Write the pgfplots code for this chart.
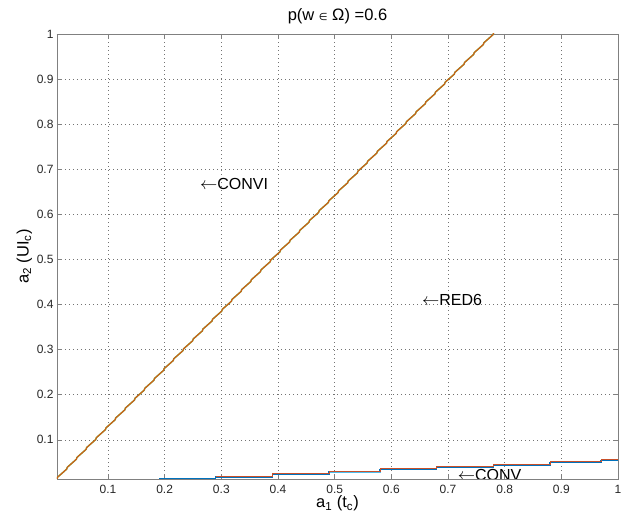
\documentclass[border=0pt]{standalone}
\usepackage{pgfplots}
\pgfplotsset{compat=1.18}
\usepackage{fontspec}
\setmainfont{Liberation Sans}
\newfontfamily\dejavu{DejaVu Sans}
\definecolor{mblue}{HTML}{0072BD}
\definecolor{morange}{HTML}{D95319}
\definecolor{mgreen}{HTML}{77AC30}
\definecolor{mcyan}{HTML}{4DBEEE}
\definecolor{mred}{HTML}{C8502A}
\begin{document}
\begin{tikzpicture}
\begin{axis}[
  scale only axis, width=561pt, height=445pt,
  at={(0,0)}, anchor=south west,
  xmin=0.01, xmax=1, ymin=0.013, ymax=1,
  xtick={0.1,0.2,...,1.0}, ytick={0.1,0.2,...,1.0},
  xticklabels={0.1,0.2,0.3,0.4,0.5,0.6,0.7,0.8,0.9,1},
  yticklabels={0.1,0.2,0.3,0.4,0.5,0.6,0.7,0.8,0.9,1},
  grid=major, major grid style={black!55, dash pattern=on 1pt off 3pt, line width=0.5pt},
  tick align=inside, tick pos=both, major tick length=5pt,
  axis line style={black!50, line width=0.8pt},
  every tick/.style={black!50},
  tick label style={font=\fontsize{12}{14}\selectfont, text=black!85},
  xticklabel style={yshift=-3pt},
  /pgf/number format/assume math mode=true,
  title={p(w {\dejavu\fontsize{10}{11}\selectfont ∈} Ω) =0.6},
  title style={font=\fontsize{16.5}{18}\selectfont, yshift=1pt},
  xlabel={a\textsubscript{1} (t\textsubscript{c})},
  ylabel={a\textsubscript{2} (UI\textsubscript{c})},
  label style={font=\fontsize{16.5}{18}\selectfont},
  xlabel style={yshift=5pt},
  ylabel style={yshift=-2pt},
  clip=true,
]
% CONVI / RED6 diagonal (overlapping, green under orange)
\addplot[mgreen, line width=1.5pt] coordinates {
(0.0100,0.0130) (0.0110,0.0170) (0.0271,0.0349) (0.0281,0.0389) (0.0442,0.0568) (0.0452,0.0608)
(0.0613,0.0787) (0.0623,0.0827) (0.0784,0.1006) (0.0794,0.1046) (0.0955,0.1225) (0.0965,0.1265)
(0.1126,0.1444) (0.1136,0.1484) (0.1297,0.1663) (0.1307,0.1703) (0.1468,0.1882) (0.1478,0.1922)
(0.1639,0.2101) (0.1649,0.2141) (0.1810,0.2320) (0.1820,0.2360) (0.1981,0.2539) (0.1991,0.2579)
(0.2152,0.2758) (0.2162,0.2798) (0.2323,0.2977) (0.2333,0.3017) (0.2494,0.3196) (0.2504,0.3236)
(0.2665,0.3415) (0.2675,0.3455) (0.2836,0.3634) (0.2846,0.3674) (0.3007,0.3853) (0.3017,0.3893)
(0.3178,0.4072) (0.3188,0.4112) (0.3349,0.4291) (0.3359,0.4331) (0.3520,0.4510) (0.3530,0.4550)
(0.3691,0.4729) (0.3701,0.4769) (0.3862,0.4948) (0.3872,0.4988) (0.4033,0.5167) (0.4043,0.5207)
(0.4204,0.5386) (0.4214,0.5426) (0.4375,0.5605) (0.4385,0.5645) (0.4546,0.5824) (0.4556,0.5864)
(0.4717,0.6043) (0.4727,0.6083) (0.4888,0.6262) (0.4898,0.6302) (0.5059,0.6481) (0.5069,0.6521)
(0.5230,0.6700) (0.5240,0.6740) (0.5401,0.6919) (0.5411,0.6959) (0.5572,0.7138) (0.5582,0.7178)
(0.5743,0.7357) (0.5753,0.7397) (0.5914,0.7576) (0.5924,0.7616) (0.6085,0.7795) (0.6095,0.7835)
(0.6256,0.8014) (0.6266,0.8054) (0.6427,0.8233) (0.6437,0.8273) (0.6598,0.8452) (0.6608,0.8492)
(0.6769,0.8671) (0.6779,0.8711) (0.6940,0.8890) (0.6950,0.8930) (0.7111,0.9109) (0.7121,0.9149)
(0.7282,0.9328) (0.7292,0.9368) (0.7453,0.9547) (0.7463,0.9587) (0.7624,0.9766) (0.7634,0.9806)
(0.7795,0.9985) (0.7805,1.0025)
};
\addplot[morange, line width=0.9pt] coordinates {
(0.0100,0.0130) (0.0110,0.0170) (0.0271,0.0349) (0.0281,0.0389) (0.0442,0.0568) (0.0452,0.0608)
(0.0613,0.0787) (0.0623,0.0827) (0.0784,0.1006) (0.0794,0.1046) (0.0955,0.1225) (0.0965,0.1265)
(0.1126,0.1444) (0.1136,0.1484) (0.1297,0.1663) (0.1307,0.1703) (0.1468,0.1882) (0.1478,0.1922)
(0.1639,0.2101) (0.1649,0.2141) (0.1810,0.2320) (0.1820,0.2360) (0.1981,0.2539) (0.1991,0.2579)
(0.2152,0.2758) (0.2162,0.2798) (0.2323,0.2977) (0.2333,0.3017) (0.2494,0.3196) (0.2504,0.3236)
(0.2665,0.3415) (0.2675,0.3455) (0.2836,0.3634) (0.2846,0.3674) (0.3007,0.3853) (0.3017,0.3893)
(0.3178,0.4072) (0.3188,0.4112) (0.3349,0.4291) (0.3359,0.4331) (0.3520,0.4510) (0.3530,0.4550)
(0.3691,0.4729) (0.3701,0.4769) (0.3862,0.4948) (0.3872,0.4988) (0.4033,0.5167) (0.4043,0.5207)
(0.4204,0.5386) (0.4214,0.5426) (0.4375,0.5605) (0.4385,0.5645) (0.4546,0.5824) (0.4556,0.5864)
(0.4717,0.6043) (0.4727,0.6083) (0.4888,0.6262) (0.4898,0.6302) (0.5059,0.6481) (0.5069,0.6521)
(0.5230,0.6700) (0.5240,0.6740) (0.5401,0.6919) (0.5411,0.6959) (0.5572,0.7138) (0.5582,0.7178)
(0.5743,0.7357) (0.5753,0.7397) (0.5914,0.7576) (0.5924,0.7616) (0.6085,0.7795) (0.6095,0.7835)
(0.6256,0.8014) (0.6266,0.8054) (0.6427,0.8233) (0.6437,0.8273) (0.6598,0.8452) (0.6608,0.8492)
(0.6769,0.8671) (0.6779,0.8711) (0.6940,0.8890) (0.6950,0.8930) (0.7111,0.9109) (0.7121,0.9149)
(0.7282,0.9328) (0.7292,0.9368) (0.7453,0.9547) (0.7463,0.9587) (0.7624,0.9766) (0.7634,0.9806)
(0.7795,0.9985) (0.7805,1.0025)
};
% bottom stair lines
\addplot[black!40, line width=1.0pt, const plot] coordinates {
(0.19,0.0150) (0.29,0.0195) (0.39,0.0252) (0.49,0.0307) (0.58,0.0357) (0.68,0.0357)
};
\addplot[mcyan, line width=1.0pt, const plot] coordinates {
(0.29,0.0168) (0.39,0.0226) (0.49,0.0281) (0.58,0.0331) (0.68,0.0331)
};
\addplot[mblue, line width=1.4pt, const plot] coordinates {
(0.19,0.0135) (0.29,0.0178) (0.39,0.0235) (0.49,0.0290) (0.58,0.0340) (0.68,0.0393) (0.78,0.0444) (0.88,0.0492) (0.97,0.0540) (1.00,0.0540)
};
\addplot[mgreen, line width=0.8pt, const plot] coordinates {
(0.29,0.0192) (0.39,0.0249) (0.49,0.0304) (0.58,0.0354) (0.68,0.0354)
};
\addplot[mred, line width=0.4pt, const plot] coordinates {
(0.29,0.0200) (0.39,0.0257) (0.49,0.0312) (0.58,0.0362) (0.68,0.0416) (0.78,0.0467) (0.88,0.0515) (0.97,0.0563) (1.00,0.0563)
};
\node[anchor=west, font=\fontsize{16}{18}\selectfont, inner sep=0pt] at (axis cs:0.262,0.667) {$\leftarrow$CONVI};
\node[anchor=west, font=\fontsize{16}{18}\selectfont, inner sep=0pt] at (axis cs:0.654,0.409) {$\leftarrow$RED6};
\node[anchor=west, font=\fontsize{16}{18}\selectfont, inner sep=0pt] at (axis cs:0.717,0.021) {$\leftarrow$CONV};
\end{axis}
\pgfresetboundingbox
\path (-57pt,-42pt) rectangle (566pt,479pt);
\end{tikzpicture}
\end{document}
